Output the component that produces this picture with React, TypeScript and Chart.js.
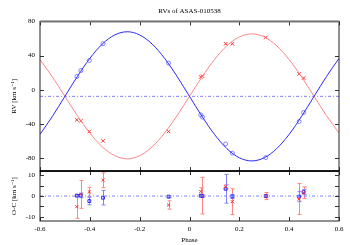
import React, { useEffect, useRef } from "react";
import { Chart, registerables } from "chart.js";

Chart.register(...registerables);

const titleText = "RVs of ASAS-010538";
const xTitle = "Phase";
const rvTitle = "RV [km s\u207B\u00B9]";
const ocTitle = "O-C [km s\u207B\u00B9]";

// model curves every 0.05 in phase
const phaseGrid = [-0.6, -0.55, -0.5, -0.45, -0.4, -0.35, -0.3, -0.25, -0.2, -0.15, -0.1, -0.05, 0, 0.05, 0.1, 0.15, 0.2, 0.25, 0.3, 0.35, 0.4, 0.45, 0.5, 0.55, 0.6];
const fitPrimary = [-52.0, -30.9, -7.6, 15.7, 36.8, 53.5, 64.2, 67.9, 64.2, 53.5, 36.8, 15.7, -7.6, -30.9, -52.0, -68.7, -79.4, -83.1, -79.4, -68.7, -52.0, -30.9, -7.6, 15.7, 36.8];
const fitSecondary = [35.3, 15.0, -7.6, -30.2, -50.5, -66.7, -77.0, -80.6, -77.0, -66.7, -50.5, -30.2, -7.6, 15.0, 35.3, 51.5, 61.8, 65.4, 61.8, 51.5, 35.3, 15.0, -7.6, -30.2, -50.5];
const systemicVelocity = -7.6;

// observations
const obsPhase = [-0.452, -0.436, -0.402, -0.347, -0.084, 0.045, 0.052, 0.145, 0.172, 0.306, 0.44, 0.458];
const rvPrimary = [15.6, 22.6, 34.3, 53.8, 31.2, -29.2, -31.9, -63.2, -74.0, -79.2, -37.0, -26.5];
const rvSecondary = [-35.0, -36.3, -48.7, -59.6, -48.7, 15.0, 16.0, 53.8, 53.8, 61.2, 18.5, 13.7];
const ocPrimary = [0.2, 0.3, -2.4, -0.8, -0.3, 0.2, 0.0, 3.5, -0.2, 0.0, -0.3, 1.9];
const ocPrimaryErr = [0.6, 1.1, 1.8, 3.5, 0.5, 0.5, 0.5, 6.9, 1.0, 0.5, 2.4, 1.3];
const ocSecondary = [-5.1, 0.8, 2.0, 7.6, -4.3, 2.2, 0.2, 4.5, -2.7, 0.0, -1.4, 1.6];
const ocSecondaryErr = [5.6, 6.7, 2.2, 3.6, 2.0, 1.8, 8.8, 1.0, 6.2, 1.7, 7.4, 2.8];

const phaseTicks = [-0.6, -0.4, -0.2, 0, 0.2, 0.4, 0.6];
const rvTicks = [80, 40, 0, -40, -80];
const ocTicks = [10, 5, 0, -5, -10];

const FONT = "'Liberation Serif', 'DejaVu Serif', serif";
const BLUE = "#2a2aff";
const BLUE_LIGHT = "#8080ff";
const RED = "#ff3030";
const RED_LIGHT = "#ff8585";

const errorBarPlugin = {
  id: "errorBars",
  beforeDatasetsDraw(chart: any) {
    const ctx = chart.ctx;
    ctx.save();
    chart.data.datasets.forEach((ds: any, i: number) => {
      if (!ds.errors) return;
      const meta = chart.getDatasetMeta(i);
      const xs = chart.scales[meta.xAxisID];
      const ys = chart.scales[meta.yAxisID];
      ctx.strokeStyle = ds.errorColor;
      ctx.lineWidth = 1;
      ds.data.forEach((p: any, j: number) => {
        const e = ds.errors[j];
        const px = Math.round(xs.getPixelForValue(p.x)) + 0.5;
        const y1 = ys.getPixelForValue(p.y + e);
        const y2 = ys.getPixelForValue(p.y - e);
        ctx.beginPath();
        ctx.moveTo(px, y1);
        ctx.lineTo(px, y2);
        ctx.moveTo(px - 2, y1);
        ctx.lineTo(px + 2, y1);
        ctx.moveTo(px - 2, y2);
        ctx.lineTo(px + 2, y2);
        ctx.stroke();
      });
    });
    ctx.restore();
  },
};

const framePlugin = {
  id: "frame",
  afterDatasetsDraw(chart: any) {
    const ctx = chart.ctx;
    const xs = chart.scales.x;
    const L = chart.chartArea.left;
    const R = chart.chartArea.right;
    ctx.save();
    const line = (a: number, b: number, c: number, d: number) => {
      ctx.beginPath();
      ctx.moveTo(a, b);
      ctx.lineTo(c, d);
      ctx.stroke();
    };
    const panels: [any, number[]][] = [
      [chart.scales.y, rvTicks],
      [chart.scales.yoc, ocTicks],
    ];
    for (const [s, ticks] of panels) {
      const T = s.top;
      const B = s.bottom;
      ctx.strokeStyle = "#333";
      ctx.lineWidth = 1;
      for (const v of ticks) {
        const py = Math.round(s.getPixelForValue(v)) + 0.5;
        line(L, py, L + 4, py);
        line(R, py, R - 4, py);
      }
      for (const v of phaseTicks) {
        const px = Math.round(xs.getPixelForValue(v)) + 0.5;
        line(px, T, px, T + 4);
        line(px, B, px, B - 4);
      }
      ctx.strokeStyle = "#222";
      ctx.lineWidth = 1;
      ctx.strokeRect(L, T, R - L, B - T);
    }
    // heavier top and separator lines
    ctx.strokeStyle = "#777";
    ctx.lineWidth = 2;
    line(L, chart.scales.y.top, R, chart.scales.y.top);
    ctx.strokeStyle = "#000";
    ctx.lineWidth = 1.5;
    line(L, chart.scales.y.bottom, R, chart.scales.y.bottom);
    ctx.restore();
  },
};

export default function App() {
  const ref = useRef<HTMLCanvasElement | null>(null);

  useEffect(() => {
    if (!ref.current) return;
    const font = { family: FONT, size: 7, weight: "normal" as const };
    const pts = (xs: number[], ys: number[]) => xs.map((x, i) => ({ x, y: ys[i] }));
    const noGrid = { display: false, drawTicks: false };

    const chart = new Chart(ref.current, {
      type: "scatter",
      data: {
        datasets: [
          {
            data: pts(phaseGrid, fitPrimary),
            yAxisID: "y",
            showLine: true,
            borderColor: BLUE,
            borderWidth: 1,
            pointRadius: 0,
            cubicInterpolationMode: "monotone",
          } as any,
          {
            data: pts(phaseGrid, fitSecondary),
            yAxisID: "y",
            showLine: true,
            borderColor: RED_LIGHT,
            borderWidth: 1,
            pointRadius: 0,
            cubicInterpolationMode: "monotone",
          } as any,
          {
            data: [
              { x: -0.6, y: systemicVelocity },
              { x: 0.6, y: systemicVelocity },
            ],
            yAxisID: "y",
            showLine: true,
            borderColor: BLUE_LIGHT,
            borderWidth: 1,
            borderDash: [3, 2, 1, 2],
            pointRadius: 0,
          } as any,
          {
            data: pts(obsPhase, rvPrimary),
            yAxisID: "y",
            pointStyle: "circle",
            pointRadius: 2,
            borderColor: BLUE_LIGHT,
            backgroundColor: "rgba(0,0,0,0)",
            borderWidth: 1,
          } as any,
          {
            data: pts(obsPhase, rvSecondary),
            yAxisID: "y",
            pointStyle: "crossRot",
            pointRadius: 2.5,
            borderColor: RED,
            borderWidth: 1,
          } as any,
          {
            data: [
              { x: -0.6, y: 0 },
              { x: 0.6, y: 0 },
            ],
            yAxisID: "yoc",
            showLine: true,
            borderColor: BLUE_LIGHT,
            borderWidth: 1,
            borderDash: [3, 2, 1, 2],
            pointRadius: 0,
          } as any,
          {
            data: pts(obsPhase, ocSecondary),
            yAxisID: "yoc",
            pointStyle: "crossRot",
            pointRadius: 2.2,
            borderColor: RED,
            borderWidth: 1,
            errors: ocSecondaryErr,
            errorColor: RED_LIGHT,
          } as any,
          {
            data: pts(obsPhase, ocPrimary),
            yAxisID: "yoc",
            pointStyle: "rect",
            pointRadius: 2,
            borderColor: BLUE,
            backgroundColor: "rgba(0,0,0,0)",
            borderWidth: 1,
            errors: ocPrimaryErr,
            errorColor: BLUE_LIGHT,
          } as any,
        ],
      },
      options: {
        animation: false,
        responsive: false,
        layout: { padding: { left: 0, right: 11, top: 0, bottom: 0 } },
        plugins: {
          legend: { display: false },
          tooltip: { enabled: false },
          title: {
            display: true,
            fullSize: false,
            text: titleText,
            color: "#000",
            font,
            padding: { top: 7, bottom: 6 },
          },
        },
        scales: {
          x: {
            type: "linear",
            min: -0.6,
            max: 0.6,
            afterBuildTicks: (s: any) => {
              s.ticks = phaseTicks.map((v) => ({ value: v }));
            },
            afterFit: (s: any) => {
              s.height = 24;
            },
            grid: noGrid,
            border: { display: false },
            ticks: {
              color: "#000",
              font,
              padding: 4,
              maxRotation: 0,
              callback: (v: any) => String(v),
            },
            title: {
              display: true,
              text: xTitle,
              color: "#000",
              font,
              padding: { top: 0, bottom: 1 },
            },
          },
          yoc: {
            type: "linear",
            position: "left",
            stack: "panels",
            stackWeight: 1,
            min: -12,
            max: 12,
            afterBuildTicks: (s: any) => {
              s.ticks = ocTicks.map((v) => ({ value: v }));
            },
            afterFit: (s: any) => {
              s.width = 40;
            },
            grid: noGrid,
            border: { display: false },
            ticks: { color: "#000", font, padding: 5, callback: (v: any) => String(v) },
            title: {
              display: true,
              text: ocTitle,
              color: "#000",
              font,
              padding: { top: 10, bottom: 0 },
            },
          },
          y: {
            type: "linear",
            position: "left",
            stack: "panels",
            stackWeight: 3,
            min: -95,
            max: 80,
            afterBuildTicks: (s: any) => {
              s.ticks = rvTicks.map((v) => ({ value: v }));
            },
            afterFit: (s: any) => {
              s.width = 40;
            },
            grid: noGrid,
            border: { display: false },
            ticks: { color: "#000", font, padding: 5, callback: (v: any) => String(v) },
            title: {
              display: true,
              text: rvTitle,
              color: "#000",
              font,
              padding: { top: 10, bottom: 0 },
            },
          },
        },
      } as any,
      plugins: [errorBarPlugin, framePlugin],
    });
    return () => chart.destroy();
  }, []);

  return (
    <div style={{ position: "absolute", left: 0, top: 0, width: 350, height: 245, background: "#fff" }}>
      <canvas ref={ref} width={350} height={245} />
    </div>
  );
}
